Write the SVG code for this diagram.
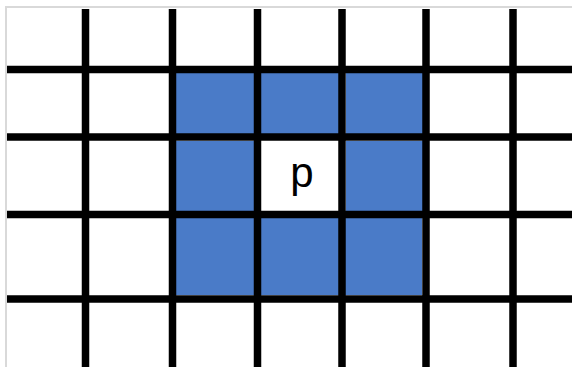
<svg xmlns="http://www.w3.org/2000/svg" width="572" height="367" viewBox="0 0 572 367">
<style>
.cell{fill:#4a7bc8}
.ln{stroke:#000;stroke-width:7.5}
.frame{stroke:#d9d9d9;stroke-width:2;fill:none}
.lbl{font-family:"Liberation Sans",Arial,sans-serif;font-size:42px;fill:#000}
</style>
<rect x="0" y="0" width="572" height="367" fill="#fff"/>
<path class="frame" d="M6,367 V7 H572"/>
<g id="cells">
<rect class="cell" x="176" y="73" width="78" height="61"/>
<rect class="cell" x="261" y="73" width="78" height="61"/>
<rect class="cell" x="346" y="73" width="77" height="61"/>
<rect class="cell" x="176" y="141" width="78" height="70"/>
<rect class="cell" x="346" y="141" width="77" height="70"/>
<rect class="cell" x="176" y="218" width="78" height="77"/>
<rect class="cell" x="261" y="218" width="78" height="77"/>
<rect class="cell" x="345" y="218" width="77" height="77"/>
</g>
<g id="grid">
<line class="ln" x1="85.5" y1="9" x2="85.5" y2="367"/>
<line class="ln" x1="172.5" y1="9" x2="172.5" y2="367"/>
<line class="ln" x1="257.5" y1="9" x2="257.5" y2="367"/>
<line class="ln" x1="342" y1="9" x2="342" y2="367"/>
<line class="ln" x1="426" y1="9" x2="426" y2="367"/>
<line class="ln" x1="513" y1="9" x2="513" y2="367"/>
<line class="ln" x1="7" y1="69.5" x2="572" y2="69.5"/>
<line class="ln" x1="7" y1="137" x2="572" y2="137"/>
<line class="ln" x1="7" y1="214.5" x2="572" y2="214.5"/>
<line class="ln" x1="7" y1="299" x2="572" y2="299"/>
</g>
<g id="p"><text class="lbl" x="302" y="187" text-anchor="middle">p</text></g>
</svg>
